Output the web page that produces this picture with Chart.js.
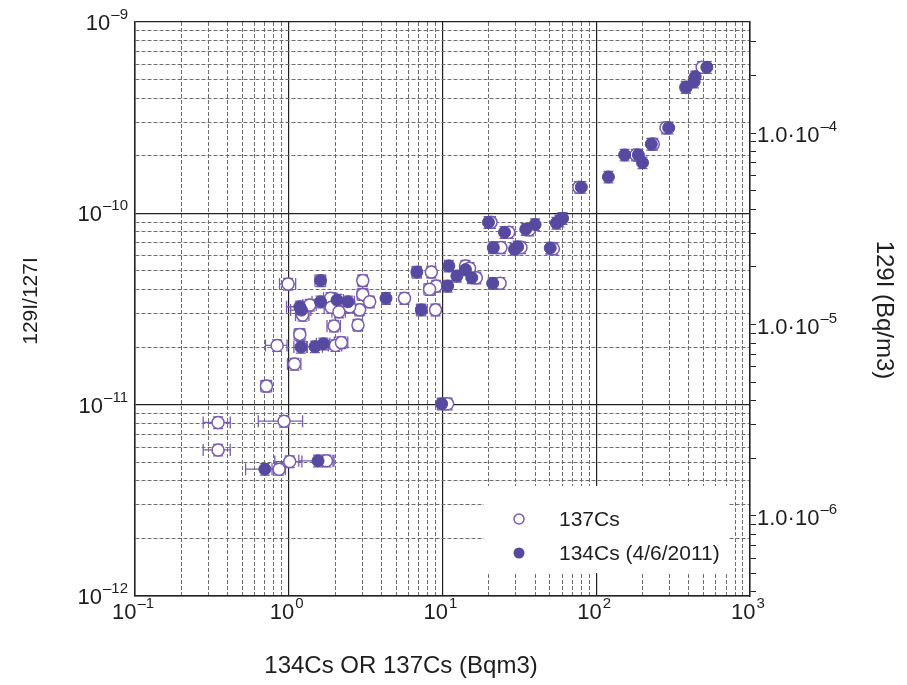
<!DOCTYPE html>
<html><head><meta charset="utf-8">
<script src="https://cdn.jsdelivr.net/npm/chart.js@4.4.0/dist/chart.umd.min.js"></script>
<style>html,body{margin:0;padding:0;background:#fff}#wrap{width:907px;height:685px;position:relative}</style>
</head><body><div id="wrap"><canvas id="c" width="907" height="685"></canvas></div>
<script>
// ---------- DATA ----------
const cs137X = [488,382,284,235,181,77,20.7,27.0,36.7,24.0,32.4,52.6,14.1,16.6,15.0,8.46,9.10,8.24,23.7,5.66,9.01,0.99,3.03,3.03,3.36,2.89,2.82,1.23,1.37,1.87,1.89,2.12,2.49,1.97,1.18,0.84,2.01,2.20,1.09,0.716,0.347,0.932,0.347,1.015,1.76,0.865,10.8];
const cs137Y = [5.8e-10,4.55e-10,2.8e-10,2.3e-10,2.02e-10,1.37e-10,8.97e-11,7.96e-11,8.2e-11,6.62e-11,6.62e-11,6.53e-11,5.31e-11,4.6e-11,5.17e-11,4.93e-11,4.17e-11,4.01e-11,4.31e-11,3.6e-11,3.13e-11,4.27e-11,4.45e-11,3.77e-11,3.45e-11,3.13e-11,2.61e-11,2.94e-11,3.32e-11,3.6e-11,3.23e-11,3.06e-11,3.25e-11,2.58e-11,2.33e-11,2.04e-11,2.04e-11,2.11e-11,1.63e-11,1.25e-11,8.07e-12,8.2e-12,5.8e-12,5.04e-12,5.09e-12,4.6e-12,1.01e-11];
const cs137XErr = [0.03,0.03,0.04,0.04,0.04,0.04,0.05,0.05,0.05,0.05,0.05,0.05,0.06,0.06,0.06,0.06,0.06,0.08,0.05,0.06,0.06,0.12,0.07,0.08,0.07,0.07,0.07,0.1,0.1,0.1,0.1,0.1,0.08,0.1,0.08,0.16,0.1,0.1,0.1,0.08,0.2,0.32,0.2,0.2,0.12,0.1,0.06];

const cs134X = [524,440,433,384,296,228,153,188,200,120,80,60.4,57.5,55,19.9,25.3,34.8,40.0,21.4,29.4,30.8,50.2,11.0,14.1,12.4,15.5,6.81,10.8,21.2,4.29,7.28,1.61,1.18,1.21,1.61,2.06,2.43,1.20,1.48,1.68,9.87,1.55,0.699];
const cs134Y = [5.8e-10,5.18e-10,4.87e-10,4.57e-10,2.8e-10,2.3e-10,2.02e-10,2.02e-10,1.84e-10,1.55e-10,1.37e-10,9.42e-11,9.14e-11,8.9e-11,8.97e-11,7.96e-11,8.26e-11,8.73e-11,6.62e-11,6.5e-11,6.68e-11,6.59e-11,5.31e-11,5.08e-11,4.7e-11,4.61e-11,4.93e-11,4.17e-11,4.31e-11,3.6e-11,3.13e-11,4.45e-11,3.25e-11,3.12e-11,3.45e-11,3.52e-11,3.45e-11,2.0e-11,2.01e-11,2.08e-11,1.01e-11,5.09e-12,4.6e-12];
const cs134XErr = [0.03,0.03,0.03,0.03,0.04,0.04,0.04,0.04,0.04,0.04,0.04,0.05,0.05,0.05,0.05,0.05,0.05,0.05,0.05,0.05,0.05,0.05,0.06,0.06,0.06,0.06,0.07,0.06,0.05,0.06,0.07,0.08,0.18,0.15,0.12,0.1,0.1,0.1,0.12,0.1,0.06,0.25,0.25];
const yRelErr = 0.07;

const seriesNames = ['137Cs', '134Cs (4/6/2011)'];

// tick labels: [base, exponent]
const xTickValues = [0.1, 1, 10, 100, 1000];
const xTickLabels = [['10','\u20131'], ['10','0'], ['10','1'], ['10','2'], ['10','3']];
const yTickValues = [1e-12, 1e-11, 1e-10, 1e-9];
const yTickLabels = [['10','\u201312'], ['10','\u201311'], ['10','\u201310'], ['10','\u20139']];
const y2TickValues = [1e-6, 1e-5, 1e-4];
const y2TickLabels = [['1.0\u00B710','\u20136'], ['1.0\u00B710','\u20135'], ['1.0\u00B710','\u20134']];

const xTitle = '134Cs OR 137Cs (Bqm3)';
const yTitle = '129I/127I';
const y2Title = '129I (Bq/m3)';

const xRange = [0.1, 1000];
const yRange = [1e-12, 1e-9];
const y2Range = [3.81e-7, 3.81e-4];

// ---------- STYLE ----------
const FONT = "'Liberation Sans', Arial, Helvetica, sans-serif";
const OPEN_COLOR = '#7a5cb2';
const FILL_COLOR = '#554a9f';
const ERR_COLOR = '#7a5cb2';
const TEXT_COLOR = '#1e1e1e';
const BASE_SIZE = 22, SUP_SIZE = 15;

function toPoints(xs, ys, es) { return xs.map((x, i) => ({x: x, y: ys[i], xe: es[i]})); }

function logTicks(min, max) {
  const out = [];
  const e0 = Math.floor(Math.log10(min)), e1 = Math.ceil(Math.log10(max));
  for (let e = e0; e <= e1; e++) {
    for (let m = 1; m <= 9; m++) {
      const v = m * Math.pow(10, e);
      if (v >= min * 0.9999 && v <= max * 1.0001) out.push({value: v});
    }
  }
  return out;
}
function isMajor(v) { const l = Math.log10(v); return Math.abs(l - Math.round(l)) < 1e-6; }

const errorBars = {
  id: 'errorBars',
  beforeDatasetsDraw(chart) {
    const {ctx, chartArea} = chart;
    const xs = chart.scales.x, ys = chart.scales.y;
    ctx.save();
    ctx.beginPath();
    ctx.rect(chartArea.left, chartArea.top, chartArea.right - chartArea.left, chartArea.bottom - chartArea.top);
    ctx.clip();
    ctx.strokeStyle = ERR_COLOR;
    ctx.lineWidth = 1.3;
    chart.data.datasets.forEach(ds => {
      ds.data.forEach(p => {
        const cx = xs.getPixelForValue(p.x), cy = ys.getPixelForValue(p.y);
        const x0 = xs.getPixelForValue(p.x * (1 - p.xe)), x1 = xs.getPixelForValue(p.x * (1 + p.xe));
        const y0 = ys.getPixelForValue(p.y * (1 - yRelErr)), y1 = ys.getPixelForValue(p.y * (1 + yRelErr));
        ctx.beginPath();
        ctx.moveTo(x0, cy); ctx.lineTo(x1, cy);
        ctx.moveTo(x0, cy - 6); ctx.lineTo(x0, cy + 6);
        ctx.moveTo(x1, cy - 6); ctx.lineTo(x1, cy + 6);
        ctx.moveTo(cx, y0); ctx.lineTo(cx, y1);
        ctx.moveTo(cx - 5, y0); ctx.lineTo(cx + 5, y0);
        ctx.moveTo(cx - 5, y1); ctx.lineTo(cx + 5, y1);
        ctx.stroke();
      });
    });
    ctx.restore();
  }
};

// draws "base^exp" with anchor: 'center' | 'right' | 'left'; y is the middle of the base text
function drawPow(ctx, base, exp, x, y, anchor) {
  ctx.font = BASE_SIZE + 'px ' + FONT;
  const wb = ctx.measureText(base).width;
  ctx.font = SUP_SIZE + 'px ' + FONT;
  const we = ctx.measureText(exp).width;
  const total = wb + 1 + we;
  let left = anchor === 'center' ? x - total / 2 : anchor === 'right' ? x - total : x;
  ctx.textAlign = 'left'; ctx.textBaseline = 'middle';
  ctx.font = BASE_SIZE + 'px ' + FONT;
  ctx.fillText(base, left, y);
  ctx.font = SUP_SIZE + 'px ' + FONT;
  ctx.fillText(exp, left + wb + 1, y - 9);
}

const overlay = {
  id: 'overlay',
  afterDraw(chart) {
    const ctx = chart.ctx;
    const xs = chart.scales.x, ys = chart.scales.y, y2 = chart.scales.y2;
    ctx.save();
    // legend box
    ctx.fillStyle = '#fff';
    ctx.fillRect(484, 486, 245, 87);
    ctx.lineWidth = 1.5;
    ctx.beginPath(); ctx.arc(519, 519, 5, 0, Math.PI * 2);
    ctx.fillStyle = '#fff'; ctx.fill(); ctx.strokeStyle = OPEN_COLOR; ctx.stroke();
    ctx.beginPath(); ctx.arc(519, 553, 5.5, 0, Math.PI * 2);
    ctx.fillStyle = FILL_COLOR; ctx.fill();
    ctx.fillStyle = TEXT_COLOR;
    ctx.font = '21px ' + FONT;
    ctx.textAlign = 'left'; ctx.textBaseline = 'middle';
    ctx.fillText(seriesNames[0], 559, 520);
    ctx.fillText(seriesNames[1], 559, 554);
    // tick labels through the scales
    xTickValues.forEach((v, i) => drawPow(ctx, xTickLabels[i][0], xTickLabels[i][1], xs.getPixelForValue(v) - 2, 613, 'center'));
    yTickValues.forEach((v, i) => drawPow(ctx, yTickLabels[i][0], yTickLabels[i][1], 128, ys.getPixelForValue(v) + 2, 'right'));
    y2TickValues.forEach((v, i) => drawPow(ctx, y2TickLabels[i][0], y2TickLabels[i][1], 757, y2.getPixelForValue(v) + 3, 'left'));
    // axis titles
    ctx.textAlign = 'center'; ctx.textBaseline = 'middle';
    ctx.font = '24px ' + FONT;
    ctx.fillText(xTitle, 401, 666);
    ctx.font = '21px ' + FONT;
    ctx.save(); ctx.translate(31, 301); ctx.rotate(-Math.PI / 2); ctx.fillText(yTitle, 0, 0); ctx.restore();
    ctx.font = '24px ' + FONT;
    ctx.save(); ctx.translate(884, 310); ctx.rotate(Math.PI / 2); ctx.fillText(y2Title, 0, 0); ctx.restore();
    ctx.restore();
  }
};

const gridColor = c => isMajor(c.tick.value) ? '#222222' : '#6e6e6e';
const gridWidth = c => isMajor(c.tick.value) ? 1.2 : 1;
const gridDash = c => (c.tick && !isMajor(c.tick.value)) ? [4, 2] : [];

new Chart(document.getElementById('c'), {
  type: 'scatter',
  data: {
    datasets: [
      { label: seriesNames[1], data: toPoints(cs134X, cs134Y, cs134XErr), order: 0,
        pointStyle: 'circle', pointRadius: 6, backgroundColor: FILL_COLOR, borderColor: FILL_COLOR, borderWidth: 1 },
      { label: seriesNames[0], data: toPoints(cs137X, cs137Y, cs137XErr), order: 1,
        pointStyle: 'circle', pointRadius: 6, backgroundColor: '#ffffff', borderColor: OPEN_COLOR, borderWidth: 1.5 }
    ]
  },
  options: {
    responsive: false, animation: false, devicePixelRatio: 1,
    layout: { padding: { top: 22, left: 0, right: 0, bottom: 0 } },
    plugins: { legend: { display: false }, tooltip: { enabled: false } },
    scales: {
      x: {
        type: 'logarithmic', position: 'bottom', min: xRange[0], max: xRange[1],
        afterBuildTicks: s => { s.ticks = logTicks(xRange[0], xRange[1]); },
        afterFit: s => { s.height = 89; },
        grid: { color: gridColor, lineWidth: gridWidth, drawTicks: false },
        border: { display: true, color: '#222', width: 1.5, dash: gridDash },
        ticks: { display: false, autoSkip: false }
      },
      y: {
        type: 'logarithmic', position: 'left', min: yRange[0], max: yRange[1],
        afterBuildTicks: s => { s.ticks = logTicks(yRange[0], yRange[1]); },
        afterFit: s => { s.width = 135; },
        grid: { color: gridColor, lineWidth: gridWidth, drawTicks: false },
        border: { display: true, color: '#222', width: 1.5, dash: gridDash },
        ticks: { display: false, autoSkip: false }
      },
      y2: {
        type: 'logarithmic', position: 'right', min: y2Range[0], max: y2Range[1],
        afterBuildTicks: s => { s.ticks = logTicks(y2Range[0], y2Range[1]); },
        afterFit: s => { s.width = 157; },
        grid: { drawOnChartArea: false, drawTicks: true, tickLength: 6, tickColor: '#222', tickWidth: 1 },
        border: { display: true, color: '#222', width: 1.5 },
        ticks: { display: false, autoSkip: false }
      }
    }
  },
  plugins: [errorBars, overlay]
});
</script></body></html>
